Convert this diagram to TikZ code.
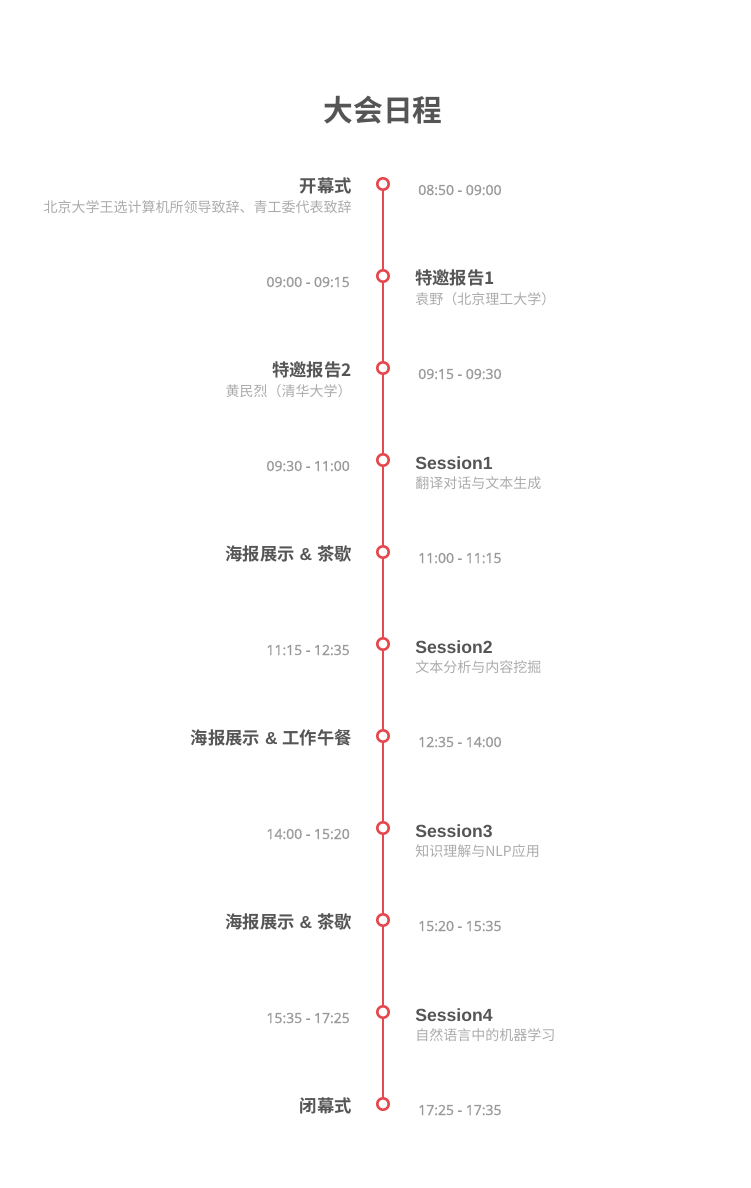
\documentclass[tikz,border=0pt]{standalone}
\usepackage{fontspec}
\newfontfamily\cjk{Noto Sans CJK SC}[BoldFont={Noto Sans CJK SC Bold}]
\newfontfamily\latinsans{Liberation Sans}
\newfontfamily\timefont{Open Sans}[FakeBold=1.1]
\newcommand\amp{{\latinsans\ \&\ }}

\definecolor{tlred}{HTML}{E5484D}
\definecolor{titlegray}{HTML}{555555}
\definecolor{subgray}{HTML}{ABABAB}
\definecolor{timegray}{HTML}{9A9A9A}

\tikzset{
  dot/.style={circle,draw=tlred,fill=white,line width=1.9pt,minimum size=8.6pt,inner sep=0pt},
  evtitle/.style={inner sep=0pt,text=titlegray,font=\cjk\bfseries\fontsize{13}{15}\selectfont},
  evsession/.style={inner sep=0pt,text=titlegray,font=\latinsans\bfseries\fontsize{13.2}{15}\selectfont},
  evsub/.style={inner sep=0pt,text=subgray,font=\cjk\fontsize{10.5}{12}\selectfont},
  evtime/.style={inner sep=0pt,text=timegray,font=\timefont\fontsize{10.5}{12}\selectfont},
}

\begin{document}
\begin{tikzpicture}[x=0.75pt,y=0.75pt,yscale=-1,xscale=1]
%set diagram size 750 x 1188
\path[use as bounding box] (0,0) rectangle (750,1188);

% Title
\node[inner sep=0pt,text=titlegray,font=\cjk\bfseries\fontsize{22.3}{26}\selectfont,anchor=base] (title) at (383,121) {大会日程};

% Dots on the timeline
\foreach \i in {0,...,10}
  \node[dot] (d\i) at (383,184+92*\i) {};
% Timeline
\foreach \i [evaluate=\i as \j using int(\i+1)] in {0,...,9}
  \draw[tlred,line width=2.2pt] (d\i) -- (d\j);

% Text Node: 0
\node[evtitle,anchor=base east] (t0) at (352,192) {开幕式};
\node[evsub,anchor=base east] (s0) at (352,212) {北京大学王选计算机所领导致辞、青工委代表致辞};
\node[evtime,anchor=base west] (h0) at (418,195) {08:50 - 09:00};
% Text Node: 1
\node[evtime,anchor=base east] (h1) at (350,287) {09:00 - 09:15};
\node[evtitle,anchor=base west] (t1) at (415,284) {特邀报告1};
\node[evsub,anchor=base west] (s1) at (415,304) {袁野（北京理工大学）};
% Text Node: 2
\node[evtitle,anchor=base east] (t2) at (352,376) {特邀报告2};
\node[evsub,anchor=base east] (s2) at (352,396) {黄民烈（清华大学）};
\node[evtime,anchor=base west] (h2) at (418,379) {09:15 - 09:30};
% Text Node: 3
\node[evtime,anchor=base east] (h3) at (350,471) {09:30 - 11:00};
\node[evsession,anchor=base west] (t3) at (415,469) {Session1};
\node[evsub,anchor=base west] (s3) at (415,488) {翻译对话与文本生成};
% Text Node: 4
\node[evtitle,anchor=base east] (t4) at (352,560) {海报展示\amp 茶歇};
\node[evtime,anchor=base west] (h4) at (418,563) {11:00 - 11:15};
% Text Node: 5
\node[evtime,anchor=base east] (h5) at (350,655) {11:15 - 12:35};
\node[evsession,anchor=base west] (t5) at (415,653) {Session2};
\node[evsub,anchor=base west] (s5) at (415,672) {文本分析与内容挖掘};
% Text Node: 6
\node[evtitle,anchor=base east] (t6) at (352,744) {海报展示\amp 工作午餐};
\node[evtime,anchor=base west] (h6) at (418,747) {12:35 - 14:00};
% Text Node: 7
\node[evtime,anchor=base east] (h7) at (350,839) {14:00 - 15:20};
\node[evsession,anchor=base west] (t7) at (415,837) {Session3};
\node[evsub,anchor=base west] (s7) at (415,856) {知识理解与NLP应用};
% Text Node: 8
\node[evtitle,anchor=base east] (t8) at (352,928) {海报展示\amp 茶歇};
\node[evtime,anchor=base west] (h8) at (418,931) {15:20 - 15:35};
% Text Node: 9
\node[evtime,anchor=base east] (h9) at (350,1023) {15:35 - 17:25};
\node[evsession,anchor=base west] (t9) at (415,1021) {Session4};
\node[evsub,anchor=base west] (s9) at (415,1040) {自然语言中的机器学习};
% Text Node: 10
\node[evtitle,anchor=base east] (t10) at (352,1112) {闭幕式};
\node[evtime,anchor=base west] (h10) at (418,1115) {17:25 - 17:35};

\end{tikzpicture}
\end{document}
